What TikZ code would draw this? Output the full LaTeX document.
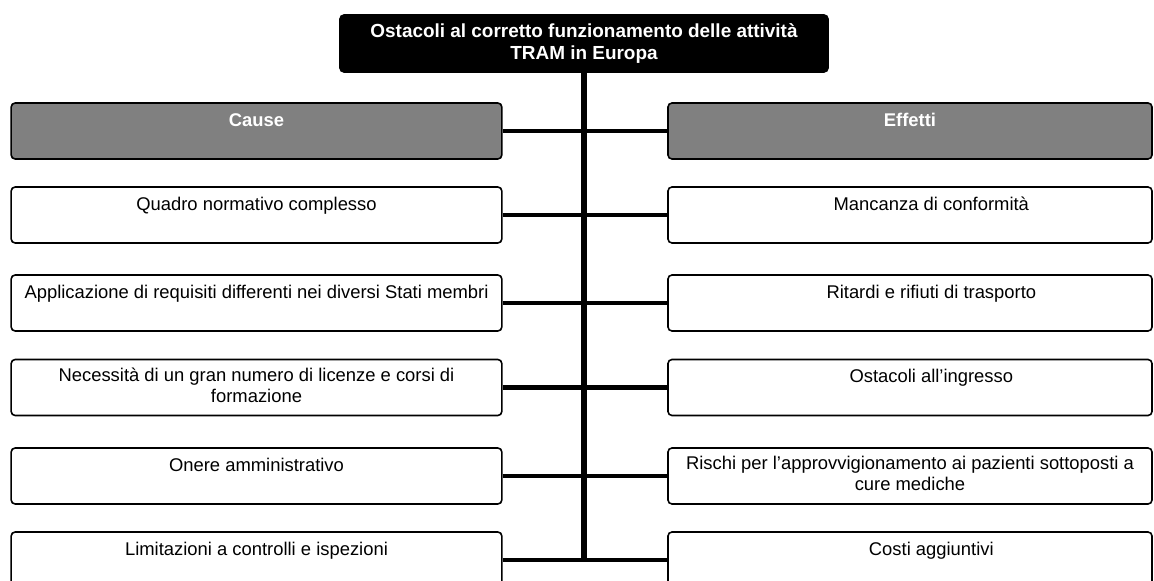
\documentclass[tikz,border=0pt]{standalone}
\usepackage{fontspec}
\setmainfont{Liberation Sans}
\usepackage{tikz}
\usetikzlibrary{positioning}
\tikzset{
    box/.style = {draw, rounded corners=3pt, line width=1.2pt, minimum height=42pt, inner sep=0pt},
    causebox/.style = {box, minimum width=368pt},
    effectbox/.style = {box, minimum width=363pt},
    headbox/.style = {fill=gray},
    lbl/.style = {inner sep=0pt, align=center, font=\fontsize{13.8}{16}\selectfont, execute at begin node=\strut},
    headlbl/.style = {lbl, text=white, font=\fontsize{13.8}{16}\selectfont\bfseries},
    titlebox/.style = {box, fill=black, text=white, align=center, minimum width=366pt, minimum height=42.75pt,
                       font=\fontsize{14.2}{16}\selectfont\bfseries},
    link/.style = {line width=3.5pt},
    spine/.style = {line width=5pt}
}

\begin{document}
\begin{tikzpicture}[x=0.75pt, y=-0.75pt]
  \useasboundingbox (0,0) rectangle (1154,581);

  % Draw the title
  \node[titlebox] (title) at (584,43.5) {Ostacoli al corretto funzionamento delle attività\\TRAM in Europa};

  % Draw the boxes
  \node[causebox, headbox] (c1) at (256.5,131) {};
  \node[causebox] (c2) at (256.5,215) {};
  \node[causebox] (c3) at (256.5,303) {};
  \node[causebox] (c4) at (256.5,387.5) {};
  \node[causebox] (c5) at (256.5,476) {};
  \node[causebox] (c6) at (256.5,560) {};

  \node[effectbox, headbox] (e1) at (910,131) {};
  \node[effectbox] (e2) at (910,215) {};
  \node[effectbox] (e3) at (910,303) {};
  \node[effectbox] (e4) at (910,387.5) {};
  \node[effectbox] (e5) at (910,476) {};
  \node[effectbox] (e6) at (910,560) {};

  % Draw the texts
  \node[headlbl, below=6.5pt of c1.north] (c1t) {Cause};
  \node[lbl, below=6.5pt of c2.north] (c2t) {Quadro normativo complesso};
  \node[lbl, below=6.5pt of c3.north] (c3t) {Applicazione di requisiti differenti nei diversi Stati membri};
  \node[lbl, below=6.5pt of c4.north] (c4t) {Necessità di un gran numero di licenze e corsi di\\formazione};
  \node[lbl, below=6.5pt of c5.north] (c5t) {Onere amministrativo};
  \node[lbl, below=6.5pt of c6.north] (c6t) {Limitazioni a controlli e ispezioni};

  \node[headlbl, below=6.5pt of e1.north] (e1t) {Effetti};
  \node[lbl, below=6.5pt of e2.north, xshift=16pt] (e2t) {Mancanza di conformità};
  \node[lbl, below=6.5pt of e3.north, xshift=16pt] (e3t) {Ritardi e rifiuti di trasporto};
  \node[lbl, below=6.5pt of e4.north, xshift=16pt] (e4t) {Ostacoli all’ingresso};
  \node[lbl, below=6.5pt of e5.north] (e5t) {Rischi per l’approvvigionamento ai pazienti sottoposti a\\cure mediche};
  \node[lbl, below=6.5pt of e6.north, xshift=16pt] (e6t) {Costi aggiuntivi};

  % Draw the lines
  \coordinate (foot) at (title.south |- c6.east);
  \draw[spine] (title.south) -- (foot);
  \draw[link] (c1.east) -- (e1.west);
  \draw[link] (c2.east) -- (e2.west);
  \draw[link] (c3.east) -- (e3.west);
  \draw[link] (c4.east) -- (e4.west);
  \draw[link] (c5.east) -- (e5.west);
  \draw[link] (c6.east) -- (e6.west);
\end{tikzpicture}
\end{document}
